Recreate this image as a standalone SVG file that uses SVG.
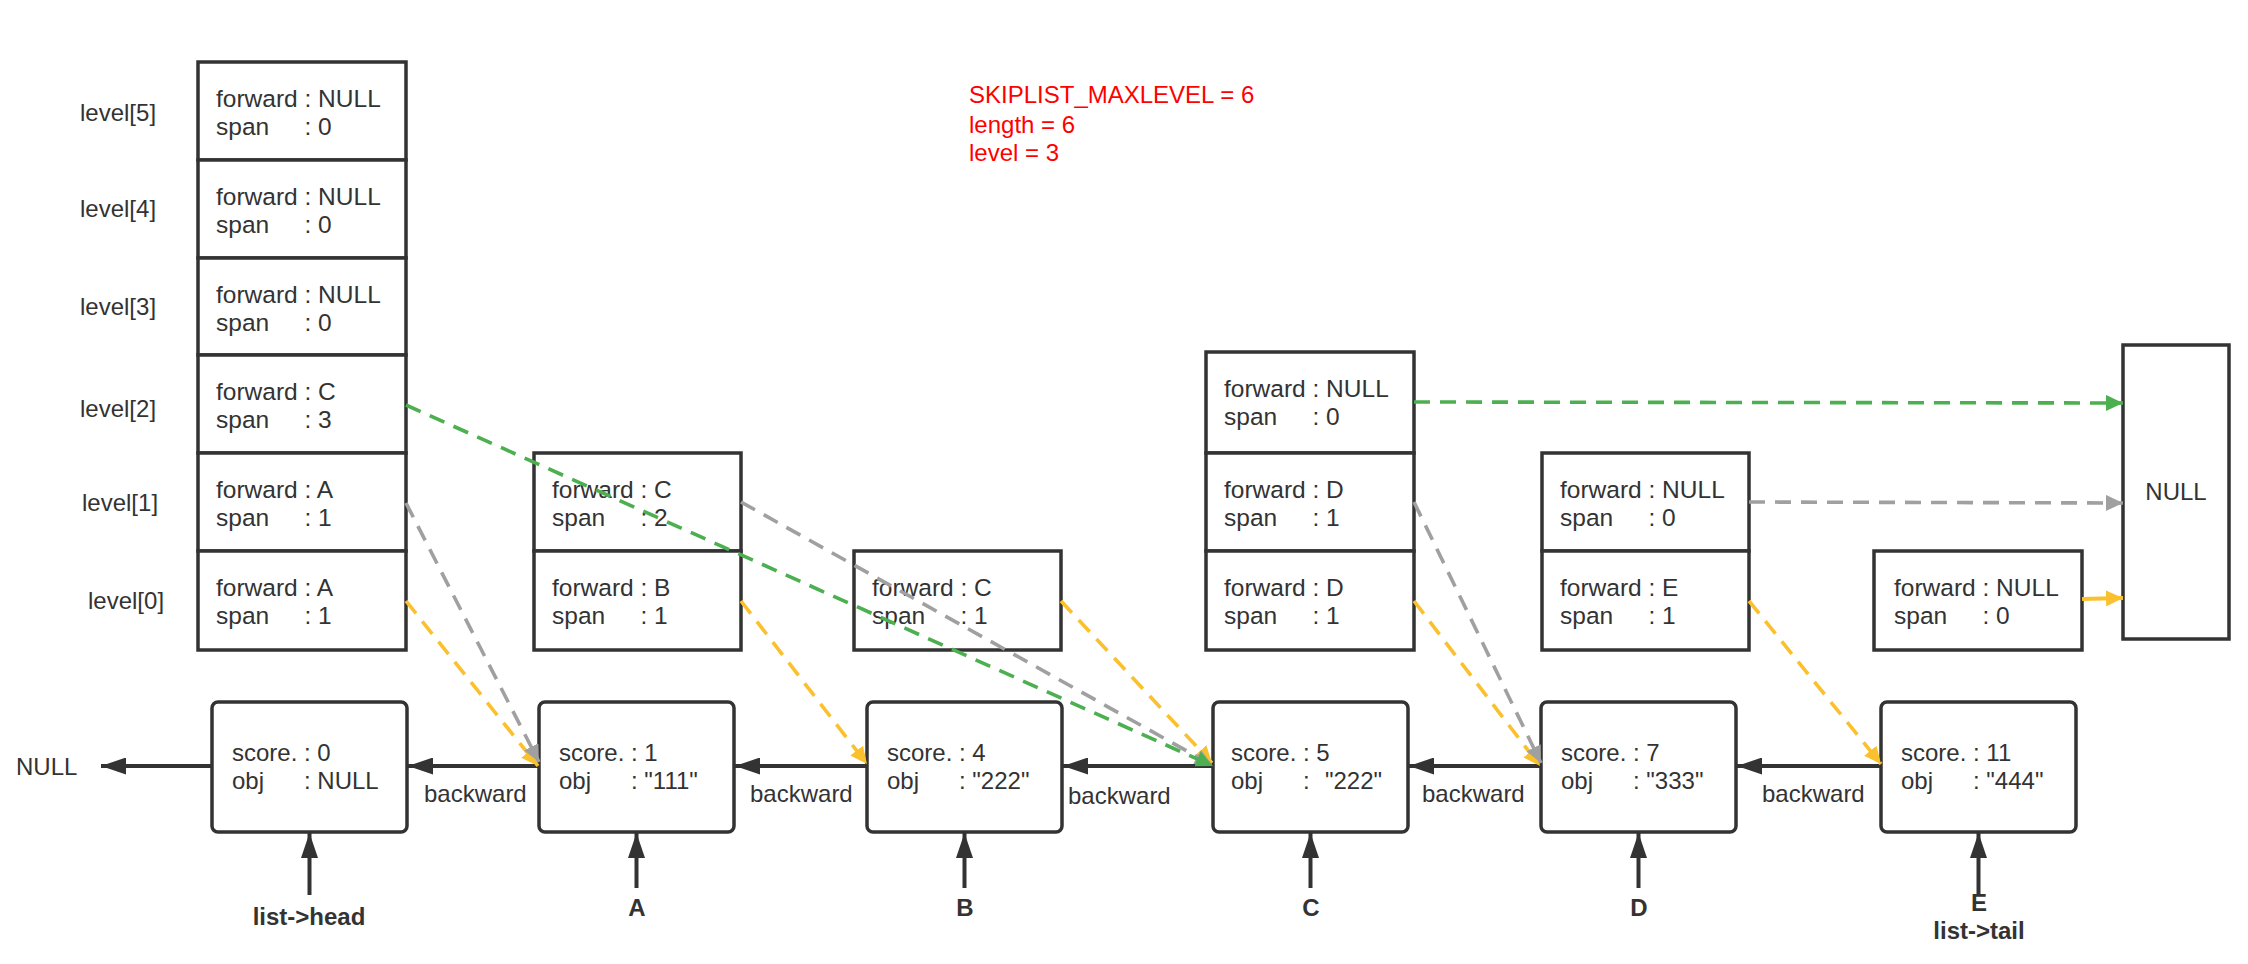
<svg xmlns="http://www.w3.org/2000/svg" width="2248" height="964" viewBox="0 0 2248 964">
<style>
.bg{fill:#fff}
.box{fill:#fff;stroke:#333;stroke-width:3.5}
.node{fill:#fff;stroke:#333;stroke-width:3.5}
.t{font-family:"Liberation Sans",Arial,sans-serif;font-size:24px;fill:#333}
.f{font-family:"Liberation Sans",Arial,sans-serif;font-size:24.5px;fill:#333}
.lbl{font-family:"Liberation Sans",Arial,sans-serif;font-size:24px;fill:#333}
.bold{font-family:"Liberation Sans",Arial,sans-serif;font-weight:bold;font-size:24px;fill:#333}
.red{font-family:"Liberation Sans",Arial,sans-serif;font-size:24px;fill:#ff0000}
.g{stroke:#4caf50;stroke-width:3.6;stroke-dasharray:16 10;fill:none;marker-end:url(#mg)}
.gr{stroke:#a0a0a0;stroke-width:3.6;stroke-dasharray:16 10;fill:none;marker-end:url(#mgr)}
.y{stroke:#fbc02d;stroke-width:3.6;stroke-dasharray:16 10;fill:none;marker-end:url(#my)}
.ys{stroke:#fbc02d;stroke-width:3.8;fill:none;marker-end:url(#my)}
.dk{stroke:#333;stroke-width:4;fill:none;marker-end:url(#mdk)}
</style>
<defs>
<marker id="mg" markerUnits="userSpaceOnUse" markerWidth="18" markerHeight="16" refX="17" refY="8" orient="auto"><path d="M0,0 L17,8 L0,16 z" fill="#4caf50"/></marker>
<marker id="mgr" markerUnits="userSpaceOnUse" markerWidth="18" markerHeight="16" refX="17" refY="8" orient="auto"><path d="M0,0 L17,8 L0,16 z" fill="#a0a0a0"/></marker>
<marker id="my" markerUnits="userSpaceOnUse" markerWidth="18" markerHeight="16" refX="17" refY="8" orient="auto"><path d="M0,0 L17,8 L0,16 z" fill="#fbc02d"/></marker>
<marker id="mdk" markerUnits="userSpaceOnUse" markerWidth="26" markerHeight="17" refX="25" refY="8.5" orient="auto"><path d="M0,0 L25,8.5 L0,17 z" fill="#333"/></marker>
</defs>
<rect class="bg" x="0" y="0" width="2248" height="964"/>

<g id="info">
<text class="red" x="969" y="103">SKIPLIST_MAXLEVEL = 6</text>
<text class="red" x="969" y="133">length = 6</text>
<text class="red" x="969" y="161">level = 3</text>
</g>

<g id="level-labels">
<text class="lbl" x="80" y="121">level[5]</text>
<text class="lbl" x="80" y="217">level[4]</text>
<text class="lbl" x="80" y="315">level[3]</text>
<text class="lbl" x="80" y="417">level[2]</text>
<text class="lbl" x="82" y="511">level[1]</text>
<text class="lbl" x="88" y="609">level[0]</text>
</g>

<g id="head-levels">
<rect class="box" x="198" y="62" width="208" height="98"/>
<rect class="box" x="198" y="160" width="208" height="98"/>
<rect class="box" x="198" y="258" width="208" height="97"/>
<rect class="box" x="198" y="355" width="208" height="98"/>
<rect class="box" x="198" y="453" width="208" height="98"/>
<rect class="box" x="198" y="551" width="208" height="99"/>
<text class="f" x="216" y="107">forward : NULL</text><text class="f" x="216" y="135">span<tspan x="304.5">: 0</tspan></text>
<text class="f" x="216" y="205">forward : NULL</text><text class="f" x="216" y="233">span<tspan x="304.5">: 0</tspan></text>
<text class="f" x="216" y="303">forward : NULL</text><text class="f" x="216" y="331">span<tspan x="304.5">: 0</tspan></text>
<text class="f" x="216" y="400">forward : C</text><text class="f" x="216" y="428">span<tspan x="304.5">: 3</tspan></text>
<text class="f" x="216" y="498">forward : A</text><text class="f" x="216" y="526">span<tspan x="304.5">: 1</tspan></text>
<text class="f" x="216" y="596">forward : A</text><text class="f" x="216" y="624">span<tspan x="304.5">: 1</tspan></text>
</g>

<g id="A-levels">
<rect class="box" x="534" y="453" width="207" height="98"/>
<rect class="box" x="534" y="551" width="207" height="99"/>
<text class="f" x="552" y="498">forward : C</text><text class="f" x="552" y="526">span<tspan x="640.5">: 2</tspan></text>
<text class="f" x="552" y="596">forward : B</text><text class="f" x="552" y="624">span<tspan x="640.5">: 1</tspan></text>
</g>

<g id="B-levels">
<rect class="box" x="854" y="551" width="207" height="99"/>
<text class="f" x="872" y="596">forward : C</text><text class="f" x="872" y="624">span<tspan x="960.5">: 1</tspan></text>
</g>

<g id="C-levels">
<rect class="box" x="1206" y="352" width="208" height="101"/>
<rect class="box" x="1206" y="453" width="208" height="98"/>
<rect class="box" x="1206" y="551" width="208" height="99"/>
<text class="f" x="1224" y="397">forward : NULL</text><text class="f" x="1224" y="425">span<tspan x="1312.5">: 0</tspan></text>
<text class="f" x="1224" y="498">forward : D</text><text class="f" x="1224" y="526">span<tspan x="1312.5">: 1</tspan></text>
<text class="f" x="1224" y="596">forward : D</text><text class="f" x="1224" y="624">span<tspan x="1312.5">: 1</tspan></text>
</g>

<g id="D-levels">
<rect class="box" x="1542" y="453" width="207" height="98"/>
<rect class="box" x="1542" y="551" width="207" height="99"/>
<text class="f" x="1560" y="498">forward : NULL</text><text class="f" x="1560" y="526">span<tspan x="1648.5">: 0</tspan></text>
<text class="f" x="1560" y="596">forward : E</text><text class="f" x="1560" y="624">span<tspan x="1648.5">: 1</tspan></text>
</g>

<g id="E-levels">
<rect class="box" x="1874" y="551" width="208" height="99"/>
<text class="f" x="1894" y="596">forward : NULL</text><text class="f" x="1894" y="624">span<tspan x="1982.5">: 0</tspan></text>
</g>

<g id="null-box">
<rect class="box" x="2123" y="345" width="106" height="294"/>
<text class="t" x="2176" y="500" text-anchor="middle">NULL</text>
</g>

<g id="null-left">
<text class="t" x="16" y="775">NULL</text>
</g>

<g id="node-head">
<rect class="node" x="212" y="702" width="195" height="130" rx="6"/>
<text class="t" x="232" y="761">score. : 0</text>
<text class="t" x="232" y="789">obj<tspan x="304">: NULL</tspan></text>
</g>
<g id="node-A">
<rect class="node" x="539" y="702" width="195" height="130" rx="6"/>
<text class="t" x="559" y="761">score. : 1</text>
<text class="t" x="559" y="789">obj<tspan x="631">: "111"</tspan></text>
</g>
<g id="node-B">
<rect class="node" x="867" y="702" width="195" height="130" rx="6"/>
<text class="t" x="887" y="761">score. : 4</text>
<text class="t" x="887" y="789">obj<tspan x="959">: "222"</tspan></text>
</g>
<g id="node-C">
<rect class="node" x="1213" y="702" width="195" height="130" rx="6"/>
<text class="t" x="1231" y="761">score. : 5</text>
<text class="t" x="1231" y="789">obj<tspan x="1303">:</tspan><tspan x="1325">"222"</tspan></text>
</g>
<g id="node-D">
<rect class="node" x="1541" y="702" width="195" height="130" rx="6"/>
<text class="t" x="1561" y="761">score. : 7</text>
<text class="t" x="1561" y="789">obj<tspan x="1633">: "333"</tspan></text>
</g>
<g id="node-E">
<rect class="node" x="1881" y="702" width="195" height="130" rx="6"/>
<text class="t" x="1901" y="761">score. : 11</text>
<text class="t" x="1901" y="789">obj<tspan x="1973">: "444"</tspan></text>
</g>

<g id="pointer-labels">
<text class="bold" x="309" y="925" text-anchor="middle">list-&gt;head</text>
<text class="bold" x="637" y="916" text-anchor="middle">A</text>
<text class="bold" x="965" y="916" text-anchor="middle">B</text>
<text class="bold" x="1311" y="916" text-anchor="middle">C</text>
<text class="bold" x="1639" y="916" text-anchor="middle">D</text>
<text class="bold" x="1979" y="911" text-anchor="middle">E</text>
<text class="bold" x="1979" y="939" text-anchor="middle">list-&gt;tail</text>
</g>

<g id="backward-labels">
<text class="t" x="424" y="802">backward</text>
<text class="t" x="750" y="802">backward</text>
<text class="t" x="1068" y="804">backward</text>
<text class="t" x="1422" y="802">backward</text>
<text class="t" x="1762" y="802">backward</text>
</g>

<g id="connectors">
<line class="dk" x1="212" y1="766" x2="101" y2="766"/>
<line class="dk" x1="539" y1="766" x2="408" y2="766"/>
<line class="dk" x1="867" y1="766" x2="735" y2="766"/>
<line class="dk" x1="1213" y1="766" x2="1063" y2="766"/>
<line class="dk" x1="1541" y1="766" x2="1409" y2="766"/>
<line class="dk" x1="1881" y1="766" x2="1737" y2="766"/>
<line class="dk" x1="309.5" y1="895" x2="309.5" y2="833"/>
<line class="dk" x1="636.5" y1="888" x2="636.5" y2="833"/>
<line class="dk" x1="964.5" y1="888" x2="964.5" y2="833"/>
<line class="dk" x1="1310.5" y1="888" x2="1310.5" y2="833"/>
<line class="dk" x1="1638.5" y1="888" x2="1638.5" y2="833"/>
<line class="dk" x1="1978.5" y1="895" x2="1978.5" y2="833"/>

<line class="y" x1="406" y1="601" x2="538" y2="766"/>
<line class="gr" x1="406" y1="503" x2="539" y2="762"/>
<line class="y" x1="741" y1="601" x2="867" y2="764"/>
<line class="y" x1="1061" y1="601" x2="1212" y2="763"/>
<line class="gr" x1="741" y1="502" x2="1212" y2="765"/>
<line class="g" x1="406" y1="405" x2="1213" y2="766"/>
<line class="g" x1="1414" y1="402" x2="2123" y2="403"/>
<line class="y" x1="1414" y1="601" x2="1540" y2="766"/>
<line class="gr" x1="1414" y1="502" x2="1541" y2="763"/>
<line class="gr" x1="1749" y1="502" x2="2123" y2="503"/>
<line class="y" x1="1749" y1="601" x2="1881" y2="764"/>
<line class="ys" x1="2082" y1="599" x2="2123" y2="598"/>
</g>
</svg>
